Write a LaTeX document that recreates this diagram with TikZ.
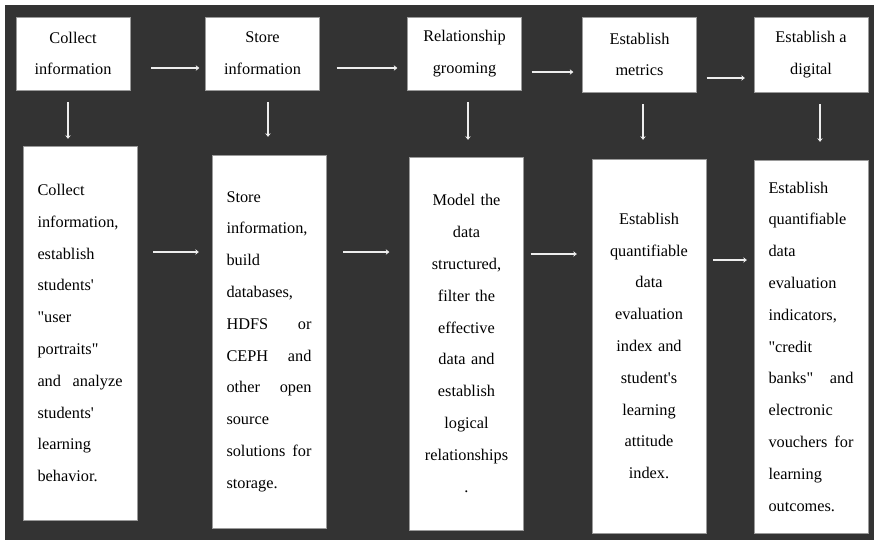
\documentclass[tikz,border=0pt]{standalone}
\usepackage{fontspec}
\newfontfamily\paperfont{Liberation Serif}
\usetikzlibrary{arrows.meta}
\definecolor{bgdark}{HTML}{333333}
\definecolor{boxedge}{HTML}{9A9A9A}
\definecolor{arrowwhite}{HTML}{EDEDED}

\begin{document}
\begin{tikzpicture}[x=1pt,y=-1pt,
    box/.style={draw=boxedge,fill=white,inner sep=0pt,minimum width=114pt,
        font=\paperfont\fontsize{16.3pt}{31.8pt}\selectfont},
    flow/.style={arrowwhite,line width=2.8pt,-{Stealth[length=3.5pt,width=5.5pt]}}]
    \useasboundingbox (0,0) rectangle (874,542);
    \fill[bgdark] (5,5) rectangle (874,540);

    % steps
    \node[box,minimum height=73pt,align=center] (c1) at (73,53.5) {Collect\\information};
    \node[box,minimum height=73pt,align=center] (c2) at (262.5,53.5) {Store\\information};
    \node[box,minimum height=73pt,align=center] (c3) at (464.5,53.5) {Relationship\\grooming};
    \node[box,minimum height=75pt,align=center] (c4) at (639.5,54.5) {Establish\\metrics};
    \node[box,minimum height=75pt,align=center] (c5) at (811,54.5) {Establish a\\digital};

    % details
    \node[box,minimum height=374pt,text width=85pt,align=left] (d1) at (80,333)
        {Collect\\information,\\establish\\students'\\"user\\portraits"\\and\hfill analyze\\students'\\learning\\behavior.};
    \node[box,minimum height=373pt,text width=85pt,align=left] (d2) at (269,341.5)
        {Store\\information,\\build\\databases,\\HDFS\hfill or\\CEPH\hfill and\\other\hfill open\\source\\solutions\hfill for\\storage.};
    \node[box,minimum height=373pt,text width=85pt,align=center] (d3) at (466.5,343.5)
        {Model the\\data\\structured,\\filter the\\effective\\data and\\establish\\logical\\relationships\\.};
    \node[box,minimum height=374pt,text width=85pt,align=center] (d4) at (649,346)
        {Establish\\quantifiable\\data\\evaluation\\index and\\student's\\learning\\attitude\\index.};
    \node[box,minimum height=373pt,text width=85pt,align=left] (d5) at (811,346.5)
        {Establish\\quantifiable\\data\\evaluation\\indicators,\\"credit\\banks"\hfill and\\electronic\\vouchers\hfill for\\learning\\outcomes.};

    \foreach \a/\b/\dy/\s/\e in {1/2/14.5/21/6, 2/3/14.5/17/10, 3/4/18.5/10/9, 4/5/23.5/10/9}
        \draw[flow,shorten <=\s pt,shorten >=\e pt] ([yshift=-\dy pt]c\a.east) -- ([yshift=-\dy pt]c\a.east -| c\b.west);

    \foreach \i/\dx/\gap in {1/-5/7, 2/5.5/18, 3/3.5/17, 4/3.5/19, 5/9/18}
        \draw[flow,shorten <=12pt,shorten >=\gap pt] ([xshift=\dx pt]c\i.south) -- ([xshift=\dx pt]c\i.south |- d\i.north);

    \foreach \a/\b/\dy/\s/\e in {1/2/81/16/13, 2/3/89.5/17/20, 3/4/89.5/7/15, 4/5/86/7/7}
        \draw[flow,shorten <=\s pt,shorten >=\e pt] ([yshift=\dy pt]d\a.east) -- ([yshift=\dy pt]d\a.east -| d\b.west);
\end{tikzpicture}
\end{document}
